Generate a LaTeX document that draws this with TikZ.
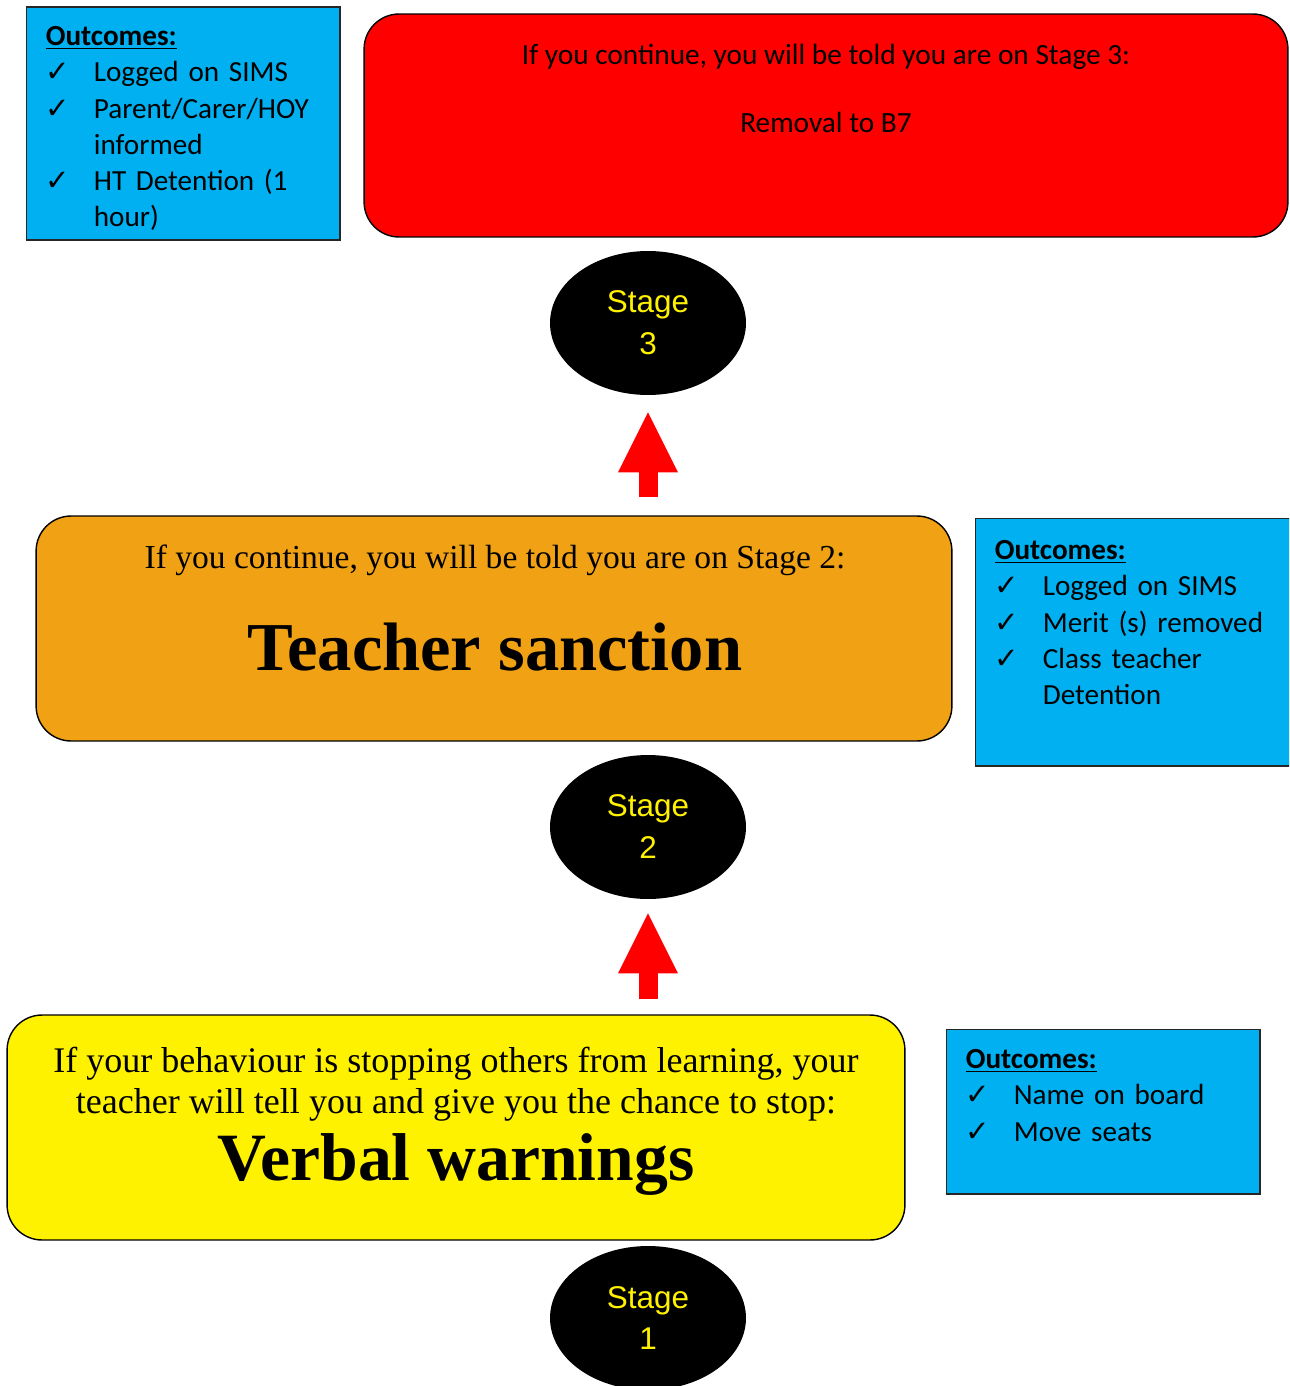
\documentclass[tikz,border=0pt]{standalone}
\usepackage{fontspec}
\setmainfont{Liberation Serif}
\newfontfamily\calibri{Carlito}
\newfontfamily\arialfont{Liberation Sans}
\newfontfamily\symfont{DejaVu Sans}
\usetikzlibrary{arrows.meta,positioning,shapes.geometric}

\definecolor{outblue}{RGB}{0,176,240}
\definecolor{sanctionorange}{RGB}{240,161,20}

\tikzstyle{outbox} = [rectangle, draw=black!85, fill=outblue, line width=0.6pt]
\tikzstyle{stagebox} = [rectangle, draw, rounded corners=0.7cm, line width=0.8pt]
\tikzstyle{stage} = [ellipse, fill=black, text=yellow, inner sep=0pt,
    minimum width=3.92cm, minimum height=2.88cm, align=center,
    font=\arialfont\fontsize{17.9}{23.9}\selectfont]
\tikzstyle{outtext} = [inner sep=0pt, align=left, text width=6cm,
    font=\calibri\fontsize{16.6}{20.5}\selectfont]
\tikzstyle{redtext} = [inner sep=0pt, anchor=base, font=\calibri\fontsize{16.7}{20}\selectfont]
\tikzstyle{plaintext} = [inner sep=0pt, anchor=base]
\tikzstyle{bigarrow} = [red, line width=0.38cm,
    -{Triangle[width=1.2cm,length=1.2cm,line width=0pt]}]

\newcommand{\tick}{\makebox[0.96cm][l]{\symfont\char"2713}}
\newcommand{\contline}{\hspace*{0.96cm}}

\begin{document}
\begin{tikzpicture}[x=0.02cm, y=-0.02cm]
  \clip (0,0) rectangle (1289,1386);

  % stage 3
  \node[outbox, minimum width=6.28cm, minimum height=4.66cm] (out3) at (183,123.5) {};
  \node[outtext, below right=0.4cm and 0.4cm of out3.north west] (out3txt)
    {\textbf{\underline{Outcomes:}}\\
     \tick Logged on SIMS\\
     \tick Parent/Carer/HOY\\
     \contline informed\\
     \tick HT Detention (1\\
     \contline hour)};
  \node[stagebox, fill=red, minimum width=18.48cm, minimum height=4.46cm] (s3box) at (826,125.5) {};
  \node[redtext] (s3line) at (826,64.5) {If you continue, you will be told you are on Stage 3:};
  \node[redtext] (s3name) at (826,132.5) {Removal to B7};
  \node[stage] (stage3) at (648,323) {Stage\\3};

  % stage 2
  \node[stagebox, fill=sanctionorange, minimum width=18.32cm, minimum height=4.5cm] (s2box) at (494,628.5) {};
  \node[plaintext, font=\fontsize{19.1}{23}\selectfont] (s2line) at (495,568)
    {If you continue, you will be told you are on Stage 2:};
  \node[plaintext, font=\bfseries\fontsize{39}{46}\selectfont] (s2name) at (495,670) {Teacher sanction};
  \node[outbox, minimum width=6.8cm, minimum height=4.96cm] (out2) at (1145,642) {};
  \node[outtext, below right=0.46cm and 0.4cm of out2.north west] (out2txt)
    {\textbf{\underline{Outcomes:}}\\
     \tick Logged on SIMS\\
     \tick Merit (s) removed\\
     \tick Class teacher\\
     \contline Detention};
  \node[stage] (stage2) at (648,827) {Stage\\2};

  % stage 1
  \node[stagebox, fill=yellow, minimum width=17.96cm, minimum height=4.5cm] (s1box) at (456,1127.5) {};
  \node[plaintext, font=\fontsize{20.5}{23}\selectfont] (s1line1) at (456,1072)
    {If your behaviour is stopping others from learning, your};
  \node[plaintext, font=\fontsize{20.5}{23}\selectfont] (s1line2) at (456,1113)
    {teacher will tell you and give you the chance to stop:};
  \node[plaintext, font=\bfseries\fontsize{38.5}{46}\selectfont] (s1name) at (456,1180) {Verbal warnings};
  \node[outbox, minimum width=6.28cm, minimum height=3.3cm] (out1) at (1103,1111.5) {};
  \node[outtext, below right=0.42cm and 0.4cm of out1.north west] (out1txt)
    {\textbf{\underline{Outcomes:}}\\
     \tick Name on board\\
     \tick Move seats};
  \node[stage] (stage1) at (648,1318) {Stage\\1};

  \draw[bigarrow, shorten <=0.36cm, shorten >=0.34cm] (stage3.south |- s2box.north) -- (stage3.south);
  \draw[bigarrow, shorten <=0.3cm, shorten >=0.28cm] (stage2.south |- s1box.north) -- (stage2.south);
\end{tikzpicture}
\end{document}
